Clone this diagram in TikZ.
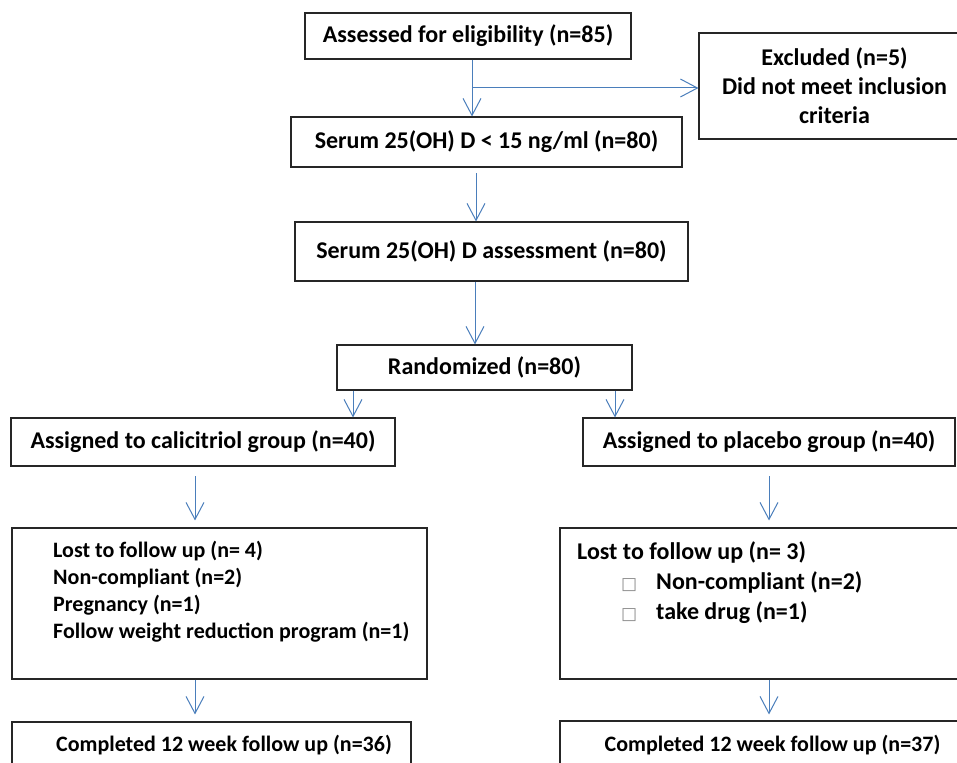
\documentclass[tikz,border=0pt]{standalone}
\usepackage{fontspec}
\setmainfont{Carlito}
\newfontfamily\symfont{DejaVu Sans}
\usetikzlibrary{arrows.meta}
\definecolor{arrowblue}{RGB}{74,126,187}
\newcommand\bulsq{{\symfont\mdseries\color{black!45}\fontsize{17}{17}\selectfont □}}
\begin{document}
\begin{tikzpicture}[x=1pt,y=-1pt,
  box/.style={draw=black!85, line width=1.1pt, rectangle, inner sep=0pt,
    font=\bfseries\fontsize{24}{29}\selectfont, align=center},
  txt/.style={inner sep=0pt, font=\bfseries\fontsize{22}{27}\selectfont, align=left},
  arr/.style={draw=arrowblue, line width=1pt,
    -{Straight Barb[length=17pt,width=18pt,line width=1pt]}}]
\useasboundingbox (0,0) rectangle (957,762);
% boxes
\node[box, minimum width=326pt, minimum height=46pt] (b1) at (468,36) {Assessed for eligibility (n=85)};
\node[box, minimum width=271pt, minimum height=106pt] (ex) at (834.5,86) {Excluded (n=5)\\Did not meet inclusion\\criteria};
\node[box, minimum width=391pt, minimum height=50pt] (b2) at (486.5,142) {Serum 25(OH) D < 15 ng/ml (n=80)};
\node[box, minimum width=393pt, minimum height=59pt] (b3) at (491.5,251.5) {Serum 25(OH) D assessment (n=80)};
\node[box, minimum width=295pt, minimum height=45pt] (rd) at (484.5,367.5) {Randomized (n=80)};
\node[box, minimum width=384pt, minimum height=48pt] (aL) at (203,442) {Assigned to calicitriol group (n=40)};
\node[box, minimum width=372pt, minimum height=48pt] (aR) at (769,442) {Assigned to placebo group (n=40)};
\node[box, minimum width=415pt, minimum height=151pt] (lL) at (219.5,603.5) {};
\node[box, minimum width=410pt, minimum height=151pt] (lR) at (765,603.5) {};
\node[box, minimum width=399pt, minimum height=50pt] (cL) at (211.5,747) {};
\node[box, minimum width=410pt, minimum height=50pt] (cR) at (765,746) {};
% texts
\node[txt, anchor=west] (tL) at (53,591.5) {Lost to follow up (n= 4)\\Non-compliant (n=2)\\Pregnancy (n=1)\\Follow weight reduction program (n=1)};
\node[txt, anchor=west, font=\bfseries\fontsize{24}{30}\selectfont] (tR) at (577,583) {Lost to follow up (n= 3)\\
\hspace*{44pt}\makebox[35pt][l]{\bulsq}Non-compliant (n=2)\\
\hspace*{44pt}\makebox[35pt][l]{\bulsq}take drug (n=1)};
\node[txt] (tcL) at (224,745) {Completed 12 week follow up (n=36)};
\node[txt] (tcR) at (772.5,745) {Completed 12 week follow up (n=37)};
% connectors
\coordinate (br) at (472,88);
\draw[arr] (b1.south -| br) -- (b2.north -| br);
\draw[arr] (br) -- (br -| ex.west);
\coordinate (c2) at (476,173);
\draw[arr] (c2) -- (c2 |- b3.north);
\coordinate (c3) at (475,0);
\draw[arr] (b3.south -| c3) -- (rd.north -| c3);
\coordinate (c4) at (353,0);
\draw[arr] (rd.south -| c4) -- (aL.north -| c4);
\coordinate (c5) at (615,0);
\draw[arr] (rd.south -| c5) -- (aR.north -| c5);
\coordinate (c6) at (195,476);
\draw[arr, shorten >=7pt] (c6) -- (c6 |- lL.north);
\draw[arr, shorten >=7pt] (lL.south -| c6) -- (cL.north -| c6);
\coordinate (c8) at (769,476);
\draw[arr, shorten >=7pt] (c8) -- (c8 |- lR.north);
\draw[arr, shorten >=6pt] (lR.south -| c8) -- (cR.north -| c8);
\end{tikzpicture}
\end{document}
